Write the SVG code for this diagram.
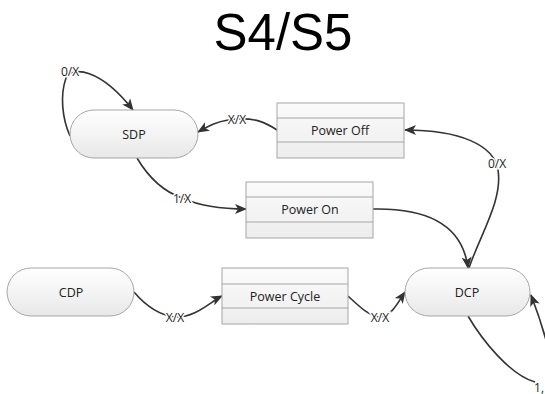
<svg xmlns="http://www.w3.org/2000/svg" width="545" height="394" viewBox="0 0 545 394">
<defs>
<linearGradient id="g" x1="0" y1="0" x2="0" y2="1">
<stop offset="0" stop-color="#ffffff"/>
<stop offset="1" stop-color="#e8e8e8"/>
</linearGradient>
<linearGradient id="gb" x1="0" y1="0" x2="0" y2="1">
<stop offset="0" stop-color="#fbfbfb"/>
<stop offset="1" stop-color="#ededed"/>
</linearGradient>
<marker id="arr" viewBox="0 0 12 10" refX="11" refY="5" markerWidth="12" markerHeight="10" markerUnits="userSpaceOnUse" orient="auto">
<path d="M0,0 L12,5 L0,10 L3,5 Z" fill="#333"/>
</marker>
<style>
.n{fill:url(#g);stroke:#a6a6a6;stroke-width:1}
.r{fill:url(#gb);stroke:#a6a6a6;stroke-width:1}
.t{font-family:"Open Sans","Noto Sans",sans-serif;font-size:12.5px;fill:#222;text-anchor:middle;dominant-baseline:central}
.c{fill:none;stroke:#333;stroke-width:1.6}
.l{font-family:"Open Sans","Noto Sans",sans-serif;font-size:12px;fill:#222;text-anchor:middle;dominant-baseline:central;paint-order:stroke;stroke:#fff;stroke-width:3px}
</style>
</defs>
<rect width="545" height="394" fill="#fff"/>
<text x="283" y="50" font-family="Liberation Sans, Arial, sans-serif" font-size="51" text-anchor="middle" fill="#000">S4/S5</text>
<g id="connectors">
<path class="c" d="M70,136 C62,118 60,95 66,78 C72,66 100,68 133,110" marker-end="url(#arr)"/>
<path class="c" d="M277,130 C265,122 255,118 237,119 C220,120 210,125 198,132" marker-end="url(#arr)"/>
<path class="c" d="M469,268 C480,235 503,200 498,170 C494,145 460,130 405,130" marker-end="url(#arr)"/>
<path class="c" d="M137,158 C150,180 165,192 182,198 C200,206 220,209 246,209" marker-end="url(#arr)"/>
<path class="c" d="M373,209 C420,208 462,220 468,268" marker-end="url(#arr)"/>
<path class="c" d="M134,292 C145,305 158,315 175,317 C195,318 210,302 222,296" marker-end="url(#arr)"/>
<path class="c" d="M348,296 C358,305 368,316 380,317 C392,316 398,302 405,292" marker-end="url(#arr)"/>
<path class="c" d="M468,316 C482,340 510,375 535,382"/>
<path class="c" d="M546,340 C541,322 536,308 531,295" marker-end="url(#arr)"/>
<text class="l" x="70" y="71">0/X</text>
<text class="l" x="237" y="119">X/X</text>
<text class="l" x="497" y="163">0/X</text>
<text class="l" x="182" y="198">1/X</text>
<text class="l" x="175" y="317">X/X</text>
<text class="l" x="380" y="317">X/X</text>
<text class="l" x="539" y="387">1,</text>
</g>
<g id="SDP">
<rect class="n" x="70" y="110" width="128" height="48" rx="24"/>
<text class="t" x="134" y="134">SDP</text>
</g>
<g id="CDP">
<rect class="n" x="7" y="268" width="127" height="48" rx="24"/>
<text class="t" x="71" y="292">CDP</text>
</g>
<g id="DCP">
<rect class="n" x="405" y="268" width="125" height="48" rx="24"/>
<text class="t" x="467" y="292">DCP</text>
</g>
<g id="PowerOff">
<rect class="r" x="277" y="103" width="127" height="55"/>
<line x1="277" y1="118" x2="404" y2="118" stroke="#a6a6a6"/>
<line x1="277" y1="142" x2="404" y2="142" stroke="#a6a6a6"/>
<text class="t" x="340" y="130">Power Off</text>
</g>
<g id="PowerOn">
<rect class="r" x="246" y="182" width="127" height="56"/>
<line x1="246" y1="197" x2="373" y2="197" stroke="#a6a6a6"/>
<line x1="246" y1="222" x2="373" y2="222" stroke="#a6a6a6"/>
<text class="t" x="310" y="209">Power On</text>
</g>
<g id="PowerCycle">
<rect class="r" x="222" y="268" width="126" height="56"/>
<line x1="222" y1="284" x2="348" y2="284" stroke="#a6a6a6"/>
<line x1="222" y1="308" x2="348" y2="308" stroke="#a6a6a6"/>
<text class="t" x="285" y="296">Power Cycle</text>
</g>
</svg>
